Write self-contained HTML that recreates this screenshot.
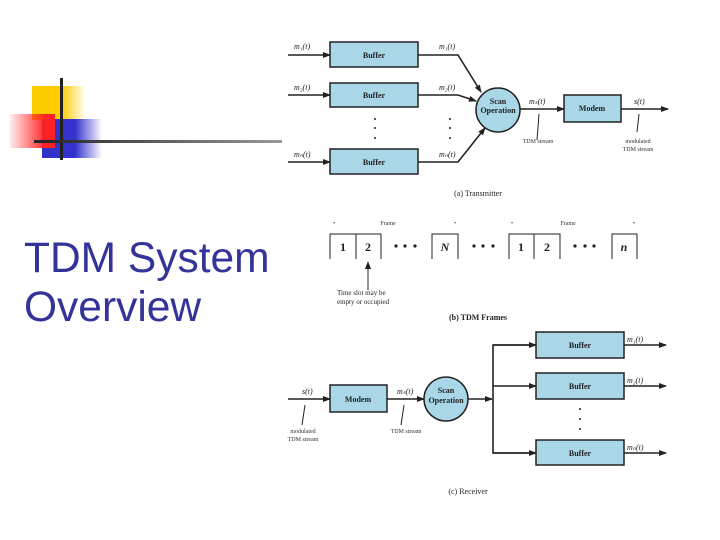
<!DOCTYPE html>
<html><head><style>
body{margin:0;width:720px;height:540px;background:#fff;position:relative;overflow:hidden;font-family:"Liberation Sans",sans-serif}
.t{position:absolute;left:24px;top:234px;font-size:42.5px;line-height:49px;color:#333399}
</style></head><body>
<div style="position:absolute;left:32px;top:86px;width:54px;height:34px;background:linear-gradient(90deg,#ffcc00 55%,rgba(255,204,0,0))"></div>
<div style="position:absolute;left:42px;top:119px;width:60px;height:39px;background:linear-gradient(90deg,#3333cc 55%,rgba(51,51,204,0))"></div>
<div style="position:absolute;left:10px;top:114px;width:45px;height:34px;background:linear-gradient(270deg,#ff2222 20%,rgba(255,80,80,0.1))"></div>
<div style="position:absolute;left:60px;top:78px;width:3px;height:82px;background:#222"></div>
<div style="position:absolute;left:34px;top:140px;width:248px;height:3px;background:linear-gradient(90deg,#222,#999)"></div>
<div class="t">TDM System<br>Overview</div>
<svg width="720" height="540" style="position:absolute;left:0;top:0" font-family="Liberation Serif,serif">
<defs><marker id="a" markerWidth="8" markerHeight="8" refX="7" refY="4" orient="auto" markerUnits="userSpaceOnUse"><path d="M0,1 L8,4 L0,7z" fill="#222"/></marker></defs>
<g stroke="#222" stroke-width="1.6" fill="none">
<line x1="288" y1="55" x2="330" y2="55" marker-end="url(#a)"/>
<line x1="288" y1="95" x2="330" y2="95" marker-end="url(#a)"/>
<line x1="288" y1="162" x2="330" y2="162" marker-end="url(#a)"/>
<polyline points="418,55 458,55 481,92" marker-end="url(#a)"/>
<polyline points="418,95 458,95 476,101" marker-end="url(#a)"/>
<polyline points="418,162 458,162 485,128" marker-end="url(#a)"/>
<line x1="520" y1="109" x2="564" y2="109" marker-end="url(#a)"/>
<line x1="621" y1="109" x2="668" y2="109" marker-end="url(#a)"/>
<line x1="288" y1="399" x2="330" y2="399" marker-end="url(#a)"/>
<line x1="387" y1="399" x2="424" y2="399" marker-end="url(#a)"/>
<line x1="468" y1="399" x2="492" y2="399" marker-end="url(#a)"/>
<polyline points="536,345 493,345 493,453 536,453"/>
<line x1="493" y1="345" x2="536" y2="345" marker-end="url(#a)"/>
<line x1="493" y1="386" x2="536" y2="386" marker-end="url(#a)"/>
<line x1="493" y1="453" x2="536" y2="453" marker-end="url(#a)"/>
<line x1="624" y1="345" x2="666" y2="345" marker-end="url(#a)"/>
<line x1="624" y1="386" x2="666" y2="386" marker-end="url(#a)"/>
<line x1="624" y1="453" x2="666" y2="453" marker-end="url(#a)"/>
<line x1="368" y1="290" x2="368" y2="262" stroke-width="1" marker-end="url(#a)"/>
</g>
<g stroke="#222" stroke-width="1" fill="none">
<line x1="537" y1="140" x2="539" y2="114"/><line x1="637" y1="132" x2="639" y2="114"/>
<line x1="302" y1="425" x2="305" y2="405"/><line x1="401" y1="425" x2="404" y2="405"/>
</g>
<g fill="#a9d7e8" stroke="#222" stroke-width="1.5">
<rect x="330" y="42" width="88" height="25"/><rect x="330" y="83" width="88" height="24"/><rect x="330" y="149" width="88" height="25"/>
<rect x="564" y="95" width="57" height="27"/><circle cx="498" cy="110" r="22"/>
<rect x="330" y="385" width="57" height="27"/><circle cx="446" cy="399" r="22"/>
<rect x="536" y="332" width="88" height="26"/><rect x="536" y="373" width="88" height="26"/><rect x="536" y="440" width="88" height="25"/>
</g>
<g font-size="8" font-weight="bold" text-anchor="middle" fill="#222">
<text x="374" y="58">Buffer</text><text x="374" y="98">Buffer</text><text x="374" y="165">Buffer</text>
<text x="592" y="111">Modem</text><text x="498" y="104">Scan</text><text x="498" y="113">Operation</text>
<text x="358" y="402">Modem</text><text x="446" y="393">Scan</text><text x="446" y="403">Operation</text>
<text x="580" y="348">Buffer</text><text x="580" y="389">Buffer</text><text x="580" y="456">Buffer</text>
<text x="478" y="196" font-weight="normal">(a) Transmitter</text>
<text x="478" y="320">(b) TDM Frames</text>
<text x="468" y="494" font-weight="normal">(c) Receiver</text>
</g>
<g font-size="8" font-style="italic" fill="#222">
<text x="294" y="49">m₁(t)</text><text x="294" y="90">m₂(t)</text><text x="294" y="157">mₙ(t)</text>
<text x="439" y="49">m₁(t)</text><text x="439" y="90">m₂(t)</text><text x="439" y="157">mₙ(t)</text>
<text x="529" y="104">mₛ(t)</text><text x="634" y="104">s(t)</text>
<text x="302" y="394">s(t)</text><text x="397" y="394">mₛ(t)</text>
<text x="627" y="342">m₁(t)</text><text x="627" y="383">m₂(t)</text><text x="627" y="450">mₙ(t)</text>
</g>
<g font-size="6" fill="#333" text-anchor="middle">
<text x="538" y="143">TDM stream</text><text x="638" y="143">modulated</text><text x="638" y="151">TDM stream</text>
<text x="303" y="433">modulated</text><text x="303" y="441">TDM stream</text><text x="406" y="433">TDM stream</text>
<text x="388" y="225">Frame</text><text x="568" y="225">Frame</text>
<text x="334" y="225">•</text><text x="455" y="225">•</text><text x="512" y="225">•</text><text x="634" y="225">•</text>
</g>
<g font-size="7" fill="#222"><text x="337" y="295">Time slot may be</text><text x="337" y="304">empty or occupied</text></g>
<g stroke="#222" stroke-width="1" fill="none">
<path d="M330,259 V234 H381 V259 M356,234 V259"/><path d="M432,259 V234 H458 V259"/>
<path d="M509,259 V234 H560 V259 M534,234 V259"/><path d="M612,259 V234 H637 V259"/>
</g>
<g font-size="12" font-weight="bold" fill="#222" text-anchor="middle">
<text x="343" y="251">1</text><text x="368" y="251">2</text><text x="445" y="251" font-style="italic">N</text>
<text x="521" y="251">1</text><text x="547" y="251">2</text><text x="624" y="251" font-style="italic">n</text>
</g>
<g fill="#222">
<circle cx="396" cy="246" r="1.6"/><circle cx="405" cy="246" r="1.6"/><circle cx="415" cy="246" r="1.6"/>
<circle cx="474" cy="246" r="1.6"/><circle cx="483" cy="246" r="1.6"/><circle cx="493" cy="246" r="1.6"/>
<circle cx="575" cy="246" r="1.6"/><circle cx="585" cy="246" r="1.6"/><circle cx="594" cy="246" r="1.6"/>
<circle cx="375" cy="119" r="1"/><circle cx="375" cy="128" r="1"/><circle cx="375" cy="138" r="1"/>
<circle cx="450" cy="119" r="1"/><circle cx="450" cy="128" r="1"/><circle cx="450" cy="138" r="1"/>
<circle cx="580" cy="409" r="1"/><circle cx="580" cy="419" r="1"/><circle cx="580" cy="429" r="1"/>
</g>
</svg>
</body></html>
